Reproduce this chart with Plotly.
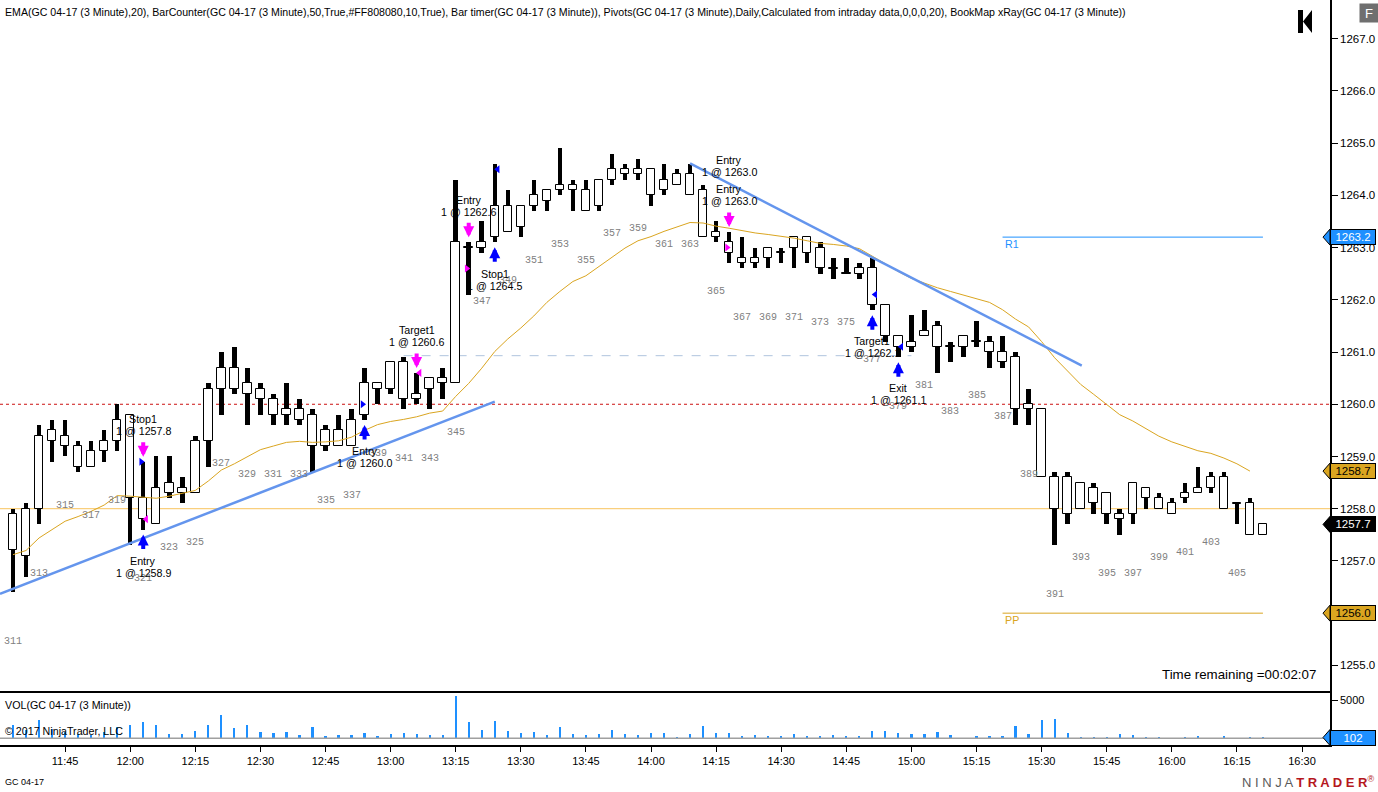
import pandas as pd
import plotly.graph_objects as go

# ---- data (GC 04-17, 3 minute bars 311..407) ----
bar_numbers = list(range(311, 408))
bar_times = pd.date_range("2017-03-08 11:33", periods=len(bar_numbers), freq="3min")

open_ = [1257.9, 1257.1, 1258.0, 1259.3, 1259.4, 1259.2, 1258.8, 1259.1, 1259.3, 1259.8,
         1258.2, 1257.7, 1258.5, 1258.3, 1258.3, 1259.3, 1260.3, 1260.7, 1260.4, 1260.3,
         1260.1, 1259.8, 1259.9, 1259.8, 1259.2, 1259.5, 1259.2, 1259.8, 1260.4, 1260.3,
         1260.8, 1260.1, 1260.3, 1260.5, 1260.4, 1263.0, 1263.0, 1263.2, 1263.8, 1263.4,
         1263.8, 1264.1, 1264.1, 1264.2, 1264.1, 1263.8, 1264.3, 1264.5, 1264.4, 1264.5,
         1264.1, 1264.2, 1264.4, 1264.1, 1263.2, 1263.1, 1262.8, 1262.7, 1262.8, 1262.9,
         1263.0, 1263.2, 1263.0, 1262.6, 1262.5, 1262.5, 1262.6, 1261.9, 1261.3, 1261.1,
         1261.3, 1261.5, 1261.1, 1261.1, 1261.2, 1261.2, 1261.0, 1260.9, 1260.0, 1259.9,
         1258.6, 1257.9, 1258.5, 1258.1, 1258.3, 1257.9, 1257.9, 1258.4, 1258.2, 1257.9,
         1258.2, 1258.3, 1258.4, 1258.6, 1258.1, 1258.1, 1257.5]
high = [1258.0, 1258.1, 1259.6, 1259.7, 1259.7, 1259.3, 1259.3, 1259.5, 1260.0, 1259.8,
        1258.9, 1259.0, 1259.0, 1258.6, 1259.4, 1260.4, 1261.0, 1261.1, 1260.7, 1260.4,
        1260.2, 1260.4, 1260.1, 1259.9, 1259.6, 1259.8, 1259.9, 1260.7, 1260.4, 1260.8,
        1260.9, 1260.6, 1260.5, 1260.7, 1264.3, 1263.1, 1263.5, 1264.6, 1264.1, 1263.8,
        1264.3, 1264.1, 1264.9, 1264.3, 1264.3, 1264.3, 1264.8, 1264.6, 1264.7, 1264.5,
        1264.6, 1264.5, 1264.6, 1264.2, 1263.5, 1263.3, 1263.2, 1263.0, 1263.0, 1263.0,
        1263.2, 1263.2, 1263.1, 1262.8, 1262.8, 1262.7, 1262.8, 1261.9, 1261.3, 1261.7,
        1261.8, 1261.6, 1261.2, 1261.3, 1261.6, 1261.3, 1261.3, 1261.0, 1260.3, 1259.9,
        1258.7, 1258.7, 1258.5, 1258.5, 1258.3, 1258.0, 1258.5, 1258.4, 1258.3, 1258.2,
        1258.5, 1258.8, 1258.7, 1258.7, 1258.1, 1258.2, 1257.7]
low = [1256.4, 1256.7, 1257.7, 1258.9, 1259.0, 1258.7, 1258.8, 1258.9, 1259.1, 1257.3,
       1257.6, 1257.7, 1258.2, 1258.1, 1258.3, 1258.8, 1259.8, 1260.2, 1259.6, 1259.8,
       1259.6, 1259.6, 1259.6, 1258.7, 1259.1, 1259.2, 1259.2, 1259.7, 1260.0, 1260.2,
       1259.9, 1260.0, 1259.9, 1260.1, 1260.4, 1262.1, 1262.9, 1263.1, 1263.3, 1263.2,
       1263.7, 1263.7, 1264.0, 1263.7, 1263.7, 1263.7, 1264.2, 1264.3, 1264.3, 1263.8,
       1264.0, 1264.2, 1264.0, 1263.2, 1263.1, 1262.7, 1262.6, 1262.6, 1262.6, 1262.7,
       1262.6, 1262.7, 1262.5, 1262.4, 1262.5, 1262.4, 1261.8, 1261.2, 1260.9, 1261.0,
       1261.3, 1260.6, 1260.8, 1260.9, 1261.1, 1260.7, 1260.7, 1259.6, 1259.6, 1258.6,
       1257.3, 1257.7, 1258.0, 1257.9, 1257.7, 1257.5, 1257.7, 1258.0, 1258.0, 1257.9,
       1258.1, 1258.3, 1258.3, 1258.0, 1257.7, 1257.5, 1257.5]
close = [1257.2, 1258.0, 1259.4, 1259.5, 1259.2, 1258.8, 1259.1, 1259.3, 1259.7, 1258.2,
         1257.8, 1258.4, 1258.3, 1258.4, 1259.3, 1260.3, 1260.7, 1260.3, 1260.2, 1260.1,
         1259.8, 1259.9, 1259.7, 1259.2, 1259.5, 1259.2, 1259.7, 1260.4, 1260.3, 1260.8,
         1260.1, 1260.2, 1260.5, 1260.4, 1263.1, 1263.0, 1263.1, 1263.8, 1263.3, 1263.8,
         1264.0, 1263.9, 1264.2, 1264.1, 1263.7, 1264.3, 1264.5, 1264.4, 1264.5, 1264.0,
         1264.3, 1264.4, 1264.0, 1263.2, 1263.3, 1262.9, 1262.7, 1262.8, 1263.0, 1262.9,
         1263.2, 1262.9, 1262.6, 1262.6, 1262.5, 1262.6, 1261.9, 1261.3, 1261.1, 1261.2,
         1261.4, 1261.1, 1261.1, 1261.3, 1261.2, 1261.0, 1260.8, 1259.9, 1259.9, 1258.6,
         1258.0, 1258.6, 1258.0, 1258.4, 1257.9, 1257.8, 1258.5, 1258.2, 1258.0, 1258.1,
         1258.3, 1258.4, 1258.6, 1258.0, 1258.1, 1257.5, 1257.7]
# EMA(20) as drawn, bars 311..406
ema20 = [1257.12, 1257.20, 1257.44, 1257.60, 1257.76, 1257.85, 1257.95, 1258.07, 1258.25, 1258.24,
         1258.22, 1258.20, 1258.24, 1258.29, 1258.35, 1258.53, 1258.74, 1258.86, 1259.00, 1259.13,
         1259.20, 1259.27, 1259.29, 1259.27, 1259.28, 1259.30, 1259.37, 1259.50, 1259.61, 1259.67,
         1259.71, 1259.76, 1259.83, 1259.87, 1260.15, 1260.40, 1260.69, 1261.01, 1261.25, 1261.46,
         1261.69, 1261.95, 1262.16, 1262.35, 1262.46, 1262.64, 1262.82, 1262.99, 1263.13, 1263.21,
         1263.31, 1263.39, 1263.48, 1263.47, 1263.41, 1263.37, 1263.32, 1263.28, 1263.25, 1263.22,
         1263.18, 1263.13, 1263.08, 1263.06, 1263.03, 1262.98, 1262.84, 1262.69, 1262.54, 1262.41,
         1262.32, 1262.23, 1262.16, 1262.09, 1262.01, 1261.95, 1261.81, 1261.63, 1261.48, 1261.20,
         1260.89, 1260.63, 1260.38, 1260.19, 1260.00, 1259.80, 1259.68, 1259.54, 1259.39, 1259.28,
         1259.19, 1259.11, 1259.06, 1258.97, 1258.86, 1258.72]
volume = [1770, 1100, 2430, 1330, 885, 660, 440, 885, 1550, 1770,
          2170, 1770, 660, 660, 1060, 1770, 3100, 1370, 1770, 840,
          710, 840, 440, 1500, 310, 440, 440, 710, 310, 575,
          710, 575, 440, 440, 5620, 2170, 1100, 2300, 970, 710,
          840, 440, 1500, 575, 440, 575, 1100, 575, 440, 710,
          710, 180, 575, 1640, 710, 710, 310, 440, 310, 310,
          575, 310, 310, 440, 310, 310, 970, 970, 710, 575,
          575, 840, 440, 45, 310, 310, 310, 1640, 575, 2430,
          2570, 710, 180, 180, 180, 575, 440, 180, 180, 45,
          180, 310, 45, 310, 45, 180, 102]

# executions: bar, side, label, fill price
exec_bar = [321, 321, 338, 342, 346, 348, 366, 366, 377, 379]
exec_side = ["buy", "sell", "buy", "sell", "sell", "buy", "sell", "sell", "buy", "buy"]
exec_label = ["Entry", "Stop1", "Entry", "Target1", "Entry", "Stop1", "Entry", "Entry", "Target1", "Exit"]
exec_price = [1258.9, 1257.8, 1260.0, 1260.6, 1262.6, 1264.5, 1263.0, 1263.0, 1262.1, 1261.1]

# drawn lines / levels
trend1_time = ["2017-03-08 11:30:00", "2017-03-08 13:24:00"]
trend1_price = [1256.37, 1260.05]
trend2_time = ["2017-03-08 14:09:00", "2017-03-08 15:39:15"]
trend2_price = [1264.61, 1260.74]
red_level = 1260.0
orange_level = 1258.0
order_level = 1260.93
order_line_time = ["2017-03-08 13:03:00", "2017-03-08 15:00:00"]
r1_level = 1263.2
pp_level = 1256.0
pivot_time = ["2017-03-08 15:21:00", "2017-03-08 16:21:00"]

price_ticks = [1255.0, 1256.0, 1257.0, 1258.0, 1259.0, 1260.0, 1261.0,
               1262.0, 1263.0, 1264.0, 1265.0, 1266.0, 1267.0]
time_ticks = ["11:45", "12:00", "12:15", "12:30", "12:45", "13:00", "13:15", "13:30", "13:45",
              "14:00", "14:15", "14:30", "14:45", "15:00", "15:15", "15:30", "15:45",
              "16:00", "16:15", "16:30"]

header = ("EMA(GC 04-17 (3 Minute),20), BarCounter(GC 04-17 (3 Minute),50,True,#FF808080,10,True), "
          "Bar timer(GC 04-17 (3 Minute)), Pivots(GC 04-17 (3 Minute),Daily,Calculated from intraday "
          "data,0,0,0,20), BookMap xRay(GC 04-17 (3 Minute))")

FONT = "Liberation Sans, Arial, sans-serif"
BLUE = "#1E90FF"
GOLD = "#DAA520"
BUY = "#0000FF"
SELL = "#FF00FF"
ms_px = 180000 / 13.02  # one 3-minute slot is ~13 px wide

fig = go.Figure()

# candle wicks (thick black) and hollow bodies
fig.add_trace(go.Bar(
    x=bar_times, base=low, y=[h - l for h, l in zip(high, low)],
    width=4.5 * ms_px, marker=dict(color="black", line=dict(width=0)),
    hoverinfo="skip", showlegend=False))
body_base = [min(o, c) if o != c else o - 0.008 for o, c in zip(open_, close)]
body_size = [max(abs(c - o), 0.016) for o, c in zip(open_, close)]
fig.add_trace(go.Bar(
    x=bar_times, base=body_base, y=body_size,
    width=8.5 * ms_px, marker=dict(color="white", line=dict(color="black", width=1)),
    hoverinfo="skip", showlegend=False))

# EMA
fig.add_trace(go.Scatter(x=bar_times[:len(ema20)], y=ema20, mode="lines",
                         line=dict(color=GOLD, width=1), hoverinfo="skip", showlegend=False))

# trend lines
for tt, pp in [(trend1_time, trend1_price), (trend2_time, trend2_price)]:
    fig.add_trace(go.Scatter(x=tt, y=pp, mode="lines", line=dict(color="#6495ED", width=2.5),
                             hoverinfo="skip", showlegend=False))

# volume
fig.add_trace(go.Bar(x=bar_times, y=volume, width=2.2 * ms_px, marker=dict(color=BLUE, line=dict(width=0)),
                     xaxis="x2", yaxis="y2", hoverinfo="skip", showlegend=False))

# horizontal levels
shapes = [
    dict(type="line", xref="paper", x0=0, x1=1, yref="y", y0=red_level, y1=red_level,
         line=dict(color="#cc1111", width=1, dash="dot"), layer="below"),
    dict(type="line", xref="paper", x0=0, x1=1, yref="y", y0=orange_level, y1=orange_level,
         line=dict(color="#F8C35C", width=1), layer="below"),
    dict(type="line", xref="x", x0=order_line_time[0], x1=order_line_time[1], yref="y",
         y0=order_level, y1=order_level, line=dict(color="#B0C4DE", width=1, dash="dash"), layer="below"),
    dict(type="line", xref="x", x0=pivot_time[0], x1=pivot_time[1], yref="y",
         y0=r1_level, y1=r1_level, line=dict(color=BLUE, width=1)),
    dict(type="line", xref="x", x0=pivot_time[0], x1=pivot_time[1], yref="y",
         y0=pp_level, y1=pp_level, line=dict(color=GOLD, width=1)),
    dict(type="line", xref="paper", x0=0, x1=1, yref="y2", y0=0, y1=0,
         line=dict(color="#A0A0A0", width=1.5)),
]

annotations = []

# bar counter every other bar, below the low
for n, t, lo in zip(bar_numbers, bar_times, low):
    if n % 2 == 1 and n <= 405:
        annotations.append(dict(x=t, y=lo, xref="x", yref="y", text=str(n), showarrow=False,
                                yshift=-49, font=dict(family="Liberation Mono, monospace", size=10,
                                                      color="#808080")))

# executions: arrows, triangles, labels
tri = {"buy": ([], [], []), "sell": ([], [], [])}
seen = {}
for b, side, lab, px in zip(exec_bar, exec_side, exec_label, exec_price):
    i = bar_numbers.index(b)
    t = bar_times[i]
    k = seen.get((b, side), 0)
    seen[(b, side)] = k + 1
    color = BUY if side == "buy" else SELL
    if k == 0:
        if side == "buy":
            annotations.append(dict(x=t, y=low[i], xref="x", yref="y", text="", showarrow=True,
                                    arrowhead=2, arrowsize=0.55, arrowwidth=4, arrowcolor=color,
                                    ax=0, ay=16, yshift=-5))
        else:
            annotations.append(dict(x=t, y=high[i], xref="x", yref="y", text="", showarrow=True,
                                    arrowhead=2, arrowsize=0.55, arrowwidth=4, arrowcolor=color,
                                    ax=0, ay=-16, yshift=5))
        entry = lab == "Entry"
        tri[side][0].append(t + pd.Timedelta(seconds=-28 if entry else 40))
        tri[side][1].append(px)
        tri[side][2].append("triangle-right" if entry else "triangle-left")
    if side == "buy":
        shifts = (-31.2 - 29 * k, -43.2 - 29 * k)
        ref = low[i]
    else:
        shifts = (42.7 + 29 * k, 30.7 + 29 * k)
        ref = high[i]
    for txt, ys in zip([lab, f"1 @ {px:.1f}"], shifts):
        annotations.append(dict(x=t, y=ref, xref="x", yref="y", text=txt, showarrow=False,
                                yshift=ys, font=dict(family=FONT, size=10.7, color="black")))

for side, color in [("buy", BUY), ("sell", SELL)]:
    xs, ys, syms = tri[side]
    fig.add_trace(go.Scatter(x=xs, y=ys, mode="markers",
                             marker=dict(symbol=syms, size=7, color=color, line=dict(width=0)),
                             hoverinfo="skip", showlegend=False))

# pivot labels
annotations.append(dict(x=pivot_time[0], y=r1_level, xref="x", yref="y", text="R1", showarrow=False,
                        xanchor="left", yshift=-7, font=dict(family=FONT, size=10.7, color=BLUE)))
annotations.append(dict(x=pivot_time[0], y=pp_level, xref="x", yref="y", text="PP", showarrow=False,
                        xanchor="left", yshift=-7, font=dict(family=FONT, size=10.7, color=GOLD)))

# price markers on the right axis
axis_marks = [(r1_level, "y", BLUE, "white"), (ema20[-1], "y", GOLD, "black"),
              (close[-1], "y", "black", "white"), (pp_level, "y", GOLD, "black"),
              (volume[-1], "y2", BLUE, "white")]
for val, yr, bg, fg in axis_marks:
    txt = f"{val:.1f}" if yr == "y" else str(val)
    annotations.append(dict(x=1, y=val, xref="paper", yref=yr, text=txt, showarrow=False,
                            xanchor="left", width=44, height=14, bgcolor=bg, bordercolor="black",
                            borderwidth=1, borderpad=0, font=dict(family=FONT, size=11.5, color=fg)))
    shapes.append(dict(type="path", xref="paper", xsizemode="pixel", xanchor=1, yref=yr,
                       ysizemode="pixel", yanchor=val, path="M -7,0 L 0,8 L 0,-8 Z",
                       fillcolor=bg, line=dict(color="black", width=1)))

# texts around the chart
annotations += [
    dict(x=0, y=1, xref="paper", yref="paper", xanchor="left", yanchor="top", xshift=3, yshift=-4,
         text=header, showarrow=False, font=dict(family=FONT, size=10.6, color="black")),
    dict(x=0, y=1, xref="paper", yref="y2 domain", xanchor="left", yanchor="top", xshift=3, yshift=-4,
         text="VOL(GC 04-17 (3 Minute))", showarrow=False, font=dict(family=FONT, size=10.7, color="black")),
    dict(x=0, y=0, xref="paper", yref="y2 domain", xanchor="left", yanchor="middle", xshift=3, yshift=14,
         text="© 2017 NinjaTrader, LLC", showarrow=False, font=dict(family=FONT, size=10.7, color="black")),
    dict(x=1, y=0, xref="paper", yref="y domain", xanchor="right", yanchor="middle", xshift=-12, yshift=16,
         text="Time remaining =00:02:07", showarrow=False, font=dict(family=FONT, size=13.3, color="black")),
    dict(x=0, y=0, xref="paper", yref="paper", xanchor="left", yanchor="middle", xshift=3, yshift=-37,
         text="GC 04-17", showarrow=False, font=dict(family=FONT, size=9, color="black")),
    dict(x=1, y=0, xref="paper", yref="paper", xanchor="right", yanchor="middle", xshift=46, yshift=-37,
         text=("<span style='color:#5a5a5a'>N I N J A</span> <b><span style='color:#b5171d'>"
               "T R A D E R</span></b><sup style='color:#b5171d'>®</sup>"),
         showarrow=False, font=dict(family=FONT, size=13, color="#5a5a5a")),
    dict(x=1, y=1, xref="paper", yref="paper", xanchor="left", yanchor="top", xshift=29, yshift=-3,
         text="F", showarrow=False, width=16, height=16, bgcolor="#6f6f6f",
         font=dict(family=FONT, size=13, color="white")),
]

# "go to start" icon
shapes.append(dict(type="path", xref="paper", xsizemode="pixel", xanchor=1, yref="paper",
                   ysizemode="pixel", yanchor=1,
                   path="M -32,-10 L -27,-10 L -27,-33 L -32,-33 Z M -27,-21.5 L -18,-10 L -18,-33 Z",
                   fillcolor="black", line=dict(width=0)))

view = ["2017-03-08 11:30:00", "2017-03-08 16:36:27"]
tick_dt = [pd.Timestamp("2017-03-08 " + s) for s in time_ticks]

fig.update_layout(
    width=1378, height=792,
    margin=dict(l=0, r=48, t=0, b=47),
    paper_bgcolor="white", plot_bgcolor="white",
    barmode="overlay", bargap=0, hovermode=False, showlegend=False,
    font=dict(family=FONT, size=10.7, color="black"),
    xaxis=dict(domain=[0, 1], anchor="y", range=view, type="date", showticklabels=False,
               ticks="", showgrid=False, zeroline=False, showline=True, linecolor="black",
               linewidth=1.5, matches="x2"),
    yaxis=dict(domain=[0.0725, 1], anchor="x", side="right", range=[1254.51, 1267.74],
               tickvals=price_ticks, ticktext=[f"{p:.1f}" for p in price_ticks],
               ticks="outside", ticklen=6, tickcolor="black", showgrid=False, zeroline=False,
               showline=True, linecolor="black", linewidth=1.5,
               tickfont=dict(family=FONT, size=11.5, color="black")),
    xaxis2=dict(domain=[0, 1], anchor="y2", range=view, type="date", tickvals=tick_dt,
                ticktext=time_ticks, ticks="outside", ticklen=5, tickcolor="black",
                showgrid=False, zeroline=False, showline=True, linecolor="black", linewidth=1.5,
                tickfont=dict(family=FONT, size=11, color="black")),
    yaxis2=dict(domain=[0, 0.0702], anchor="x2", side="right", range=[-890, 6025],
                tickvals=[5000], ticktext=["5000"], ticks="outside", ticklen=6, tickcolor="black",
                showgrid=False, zeroline=False, showline=True, linecolor="black", linewidth=1.5,
                tickfont=dict(family=FONT, size=11, color="black")),
    shapes=shapes,
    annotations=annotations,
)

# the page's default body margin would shift the 1378x792 figure out of the window
fig.write_html("out.html", config={"displayModeBar": False},
               post_script="document.body.style.margin='0';")
